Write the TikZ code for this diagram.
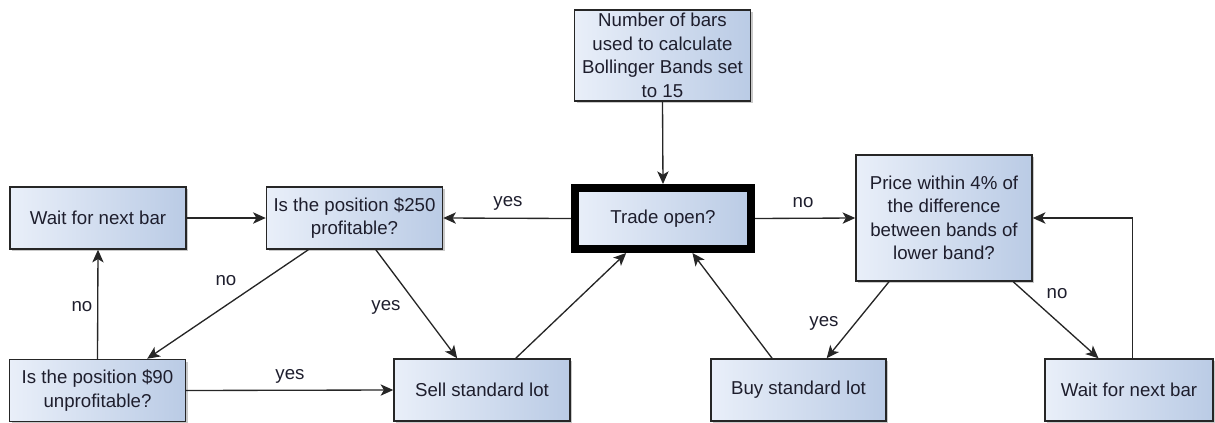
\documentclass[tikz,border=0pt]{standalone}
\usepackage{fontspec}
\setmainfont{Liberation Sans}
\usetikzlibrary{arrows.meta,shadows,calc}

\definecolor{boxleft}{RGB}{233,239,249}
\definecolor{boxright}{RGB}{186,203,229}
\definecolor{txtcol}{RGB}{30,30,45}

\tikzset{
  flowbox/.style={draw=black!85, line width=1.1pt, left color=boxleft, right color=boxright,
    drop shadow={shadow xshift=1.6pt, shadow yshift=-1.6pt, opacity=0.3, fill=black!70},
    minimum width=132pt, minimum height=46.5pt, inner sep=1pt, align=center,
    text=txtcol, font=\fontsize{14}{17.6}\selectfont},
  flowarrow/.style={draw=black!85, line width=1pt, -{Stealth[length=9.5pt, width=8.5pt, inset=2.5pt]}},
  flowlabel/.style={inner sep=0.75pt, text=txtcol, font=\fontsize{14}{17.6}\selectfont},
}

\begin{document}
\begin{tikzpicture}[x=0.75pt,y=0.75pt,yscale=-1,xscale=1]
    \useasboundingbox (0,0) rectangle (1215,422);

    %Shape: Rectangle [id:bars]
    \node [flowbox, minimum height=68pt] (bars) at (662.5,55.5) {Number of bars\\used to calculate\\Bollinger Bands set\\to 15};
    %Shape: Rectangle [id:trade]
    \node [flowbox, line width=6pt, draw=black, minimum width=132pt, minimum height=45.75pt] (trade) at (663,218.5) {Trade open?};
    %Shape: Rectangle [id:price]
    \node [flowbox, minimum height=94.5pt] (price) at (944,218) {Price within 4\% of\\the difference\\between bands of\\lower band?};
    %Shape: Rectangle [id:waitL]
    \node [flowbox] (waitL) at (98,218) {Wait for next bar};
    %Shape: Rectangle [id:prof]
    \node [flowbox] (prof) at (354.5,218) {Is the position \$250\\profitable?};
    %Shape: Rectangle [id:unprof]
    \node [flowbox] (unprof) at (97.5,390.5) {Is the position \$90\\unprofitable?};
    %Shape: Rectangle [id:sell]
    \node [flowbox] (sell) at (482,390) {Sell standard lot};
    %Shape: Rectangle [id:buy]
    \node [flowbox, minimum width=131pt] (buy) at (798.5,390) {Buy standard lot};
    %Shape: Rectangle [id:waitR]
    \node [flowbox, minimum width=126pt] (waitR) at (1129,390) {Wait for next bar};

    %Straight Lines
    \draw [flowarrow] (bars.south) -- (trade.north);
    \draw [flowarrow] (trade.west) -- (prof.east);
    \draw [flowarrow] (trade.east) -- (price.west);
    \draw [flowarrow] (waitL.east) -- (prof.west);
    \draw [flowarrow] ($(prof.south west)!0.24!(prof.south east)$) -- ($(unprof.north west)!0.78!(unprof.north east)$);
    \draw [flowarrow] ($(prof.south west)!0.62!(prof.south east)$) -- ($(sell.north west)!0.36!(sell.north east)$);
    \draw [flowarrow] (unprof.north) -- (waitL.south);
    \draw [flowarrow] (unprof.east) -- (sell.west);
    \draw [flowarrow] ($(sell.north west)!0.69!(sell.north east)$) -- ($(trade.south west)!0.30!(trade.south east)$);
    \draw [flowarrow] ($(buy.north west)!0.35!(buy.north east)$) -- ($(trade.south west)!0.66!(trade.south east)$);
    \draw [flowarrow] ($(price.south west)!0.19!(price.south east)$) -- ($(buy.north west)!0.66!(buy.north east)$);
    \draw [flowarrow] ($(price.south west)!0.89!(price.south east)$) -- ($(waitR.north west)!0.32!(waitR.north east)$);
    \draw [flowarrow] ($(waitR.north west)!0.52!(waitR.north east)$) |- (price.east);

    % Text Node
    \node [flowlabel] (yesProf) at (508,203) {yes};
    % Text Node
    \node [flowlabel] (noPrice) at (803,203) {no};
    % Text Node
    \node [flowlabel] (noUnprof) at (226,281) {no};
    % Text Node
    \node [flowlabel] (yesSell) at (386,307) {yes};
    % Text Node
    \node [flowlabel] (noWait) at (82,307) {no};
    % Text Node
    \node [flowlabel] (yesSellB) at (290,376) {yes};
    % Text Node
    \node [flowlabel] (yesBuy) at (824,323) {yes};
    % Text Node
    \node [flowlabel] (noWaitR) at (1057,294) {no};

\end{tikzpicture}
\end{document}
